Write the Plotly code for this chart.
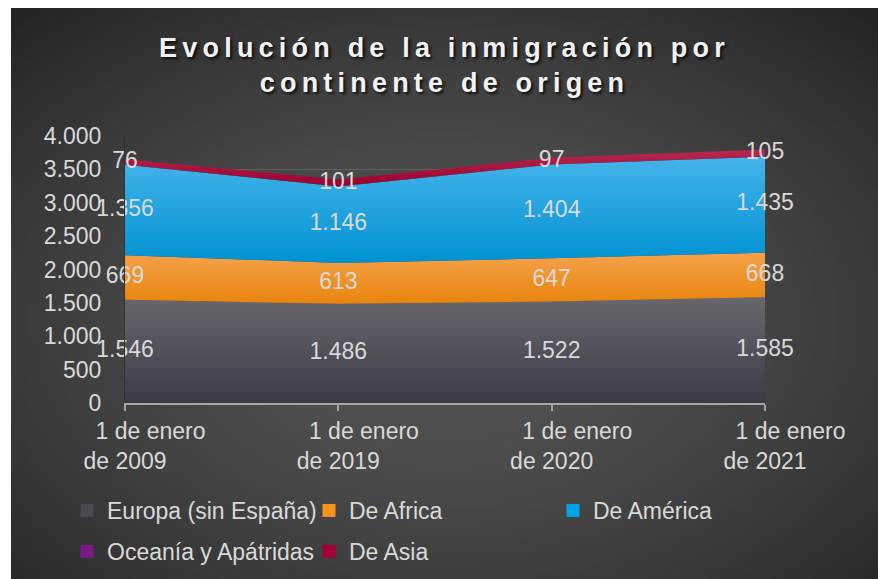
import base64
import struct
import zlib

import numpy as np
import plotly.graph_objects as go

# Datos
fechas = ["1 de enero de 2009", "1 de enero de 2019", "1 de enero de 2020", "1 de enero de 2021"]
europa = [1546, 1486, 1522, 1585]
africa = [669, 613, 647, 668]
america = [1356, 1146, 1404, 1435]
oceania = [5, 4, 4, 4]
asia = [76, 101, 97, 105]

series = ["Europa (sin España)", "De Africa", "De América", "Oceanía y Apátridas", "De Asia"]
valores = [europa, africa, america, oceania, asia]

# colores (abajo, arriba) del degradado de cada área
degradados = [
    ("#3d3a46", "#68676d"),
    ("#e8840b", "#f5a24c"),
    ("#0092d3", "#45b4ea"),
    ("#6d167a", "#8f2f96"),
    ("#9a002e", "#b8294f"),
]
colores_leyenda = ["#4b4953", "#f7941d", "#00a3e3", "#7b1a82", "#a50034"]
con_etiqueta = [True, True, True, False, True]

W, H = 878, 579
ML, MR, MT, MB = 125, 113, 136, 176
PW, PH = W - ML - MR, H - MT - MB
FUENTE = "Liberation Sans, Arial, sans-serif"
GRIS_TEXTO = "#d9d9d9"


def fondo_radial(w=176, h=116):
    """Genera un PNG con el degradado radial oscuro del fondo."""
    filas = bytearray()
    for j in range(h):
        filas.append(0)
        for i in range(w):
            dx = ((i + 0.5) / w - 0.5) / 0.5
            dy = ((j + 0.5) / h - 0.55) / 0.5
            d = (dx * dx + dy * dy) ** 0.5
            v = int(round(max(36, 84 - 26 * d ** 1.6)))
            filas += bytes((v, v, v))

    def bloque(tag, data):
        return (struct.pack(">I", len(data)) + tag + data
                + struct.pack(">I", zlib.crc32(tag + data) & 0xFFFFFFFF))

    png = (b"\x89PNG\r\n\x1a\n"
           + bloque(b"IHDR", struct.pack(">IIBBBBB", w, h, 8, 2, 0, 0, 0))
           + bloque(b"IDAT", zlib.compress(bytes(filas)))
           + bloque(b"IEND", b""))
    return "data:image/png;base64," + base64.b64encode(png).decode()


def miles(v):
    return f"{v:,}".replace(",", ".")


fig = go.Figure()

# Áreas apiladas
for nombre, vals, (c0, c1) in zip(series, valores, degradados):
    fig.add_trace(go.Scatter(
        x=fechas, y=vals, name=nombre, stackgroup="uno", mode="lines",
        line=dict(width=0),
        fillgradient=dict(type="vertical", colorscale=[[0, c0], [1, c1]]),
        showlegend=False, hoverinfo="skip",
    ))

# Etiquetas de datos en el centro de cada banda
acum = np.cumsum(np.array(valores), axis=0)
for k, (vals, mostrar) in enumerate(zip(valores, con_etiqueta)):
    if not mostrar:
        continue
    centro = acum[k] - np.array(vals) / 2
    fig.add_trace(go.Scatter(
        x=fechas, y=centro, mode="text", text=[miles(v) for v in vals],
        textposition="middle center", cliponaxis=False,
        textfont=dict(size=23, color=GRIS_TEXTO, family=FUENTE),
        showlegend=False, hoverinfo="skip",
    ))

# Leyenda en tres columnas (marcadores cuadrados)
columnas = ["legend", "legend2", "legend3", "legend", "legend2"]
for nombre, color, leg in zip(series, colores_leyenda, columnas):
    fig.add_trace(go.Scatter(
        x=[None], y=[None], mode="markers", name=nombre, legend=leg,
        legendgroup=nombre,
        marker=dict(symbol="square", size=13, color=color),
    ))

nbsp = "\u00a0" * 8
etiquetas_x = [f"{nbsp}1 de enero<br>de {f[-4:]}" for f in fechas]

leyenda_base = dict(
    orientation="v", xanchor="left", yanchor="top", y=(403 - 489) / PH,
    bgcolor="rgba(0,0,0,0)", font=dict(size=23, color=GRIS_TEXTO, family=FUENTE),
    tracegroupgap=8, itemclick=False,
)

espaciado = "letter-spacing:5.2px"

fig.update_layout(
    width=W, height=H,
    margin=dict(l=ML, r=MR, t=MT, b=MB, autoexpand=False),
    paper_bgcolor="white",
    plot_bgcolor="rgba(0,0,0,0)",
    separators=",.",
    font=dict(family=FUENTE, color=GRIS_TEXTO, size=23),
    title=dict(
        text=(f'<span style="{espaciado}">Evolución de la inmigración por</span><br>'
              f'<span style="{espaciado}">continente de origen</span>'),
        x=444.5 / W, xanchor="center", xref="container",
        y=1 - 57 / H, yanchor="top", yref="container",
        font=dict(size=27, color="#f2f2f2", family=FUENTE, weight="bold",
                  shadow="2px 2px 3px rgba(0,0,0,0.8)"),
    ),
    xaxis=dict(
        type="category", range=[0, 3],
        tickvals=fechas, ticktext=etiquetas_x,
        showgrid=False, zeroline=False,
        showline=True, linecolor="#a6a6a6", linewidth=2,
        ticks="outside", ticklen=6, tickwidth=2, tickcolor="#a6a6a6",
        tickfont=dict(size=23, color=GRIS_TEXTO),
        ticklabelstandoff=0,
    ),
    yaxis=dict(
        range=[0, 4000], dtick=500, tickformat=",d",
        showgrid=True, gridcolor="#606060", gridwidth=1,
        zeroline=False, showline=True, linecolor="#333333", linewidth=1,
        ticks="", tickfont=dict(size=23, color=GRIS_TEXTO),
        ticklabelstandoff=18,
    ),
    legend=dict(leyenda_base, x=(67 - ML) / PW),
    legend2=dict(leyenda_base, x=(309 - ML) / PW),
    legend3=dict(leyenda_base, x=(553 - ML) / PW),
    images=[dict(
        source=fondo_radial(), xref="paper", yref="paper",
        x=(11 - ML) / PW, y=(H - MB - 8) / PH,
        sizex=(W - 11) / PW, sizey=(H - 8) / PH,
        xanchor="left", yanchor="top", sizing="stretch", layer="below",
    )],
)

# sin márgenes del body para que la figura ocupe toda la ventana
fig.write_html(
    "out.html",
    config={"displayModeBar": False},
    post_script="document.body.style.margin='0';document.body.style.overflow='hidden';",
)
